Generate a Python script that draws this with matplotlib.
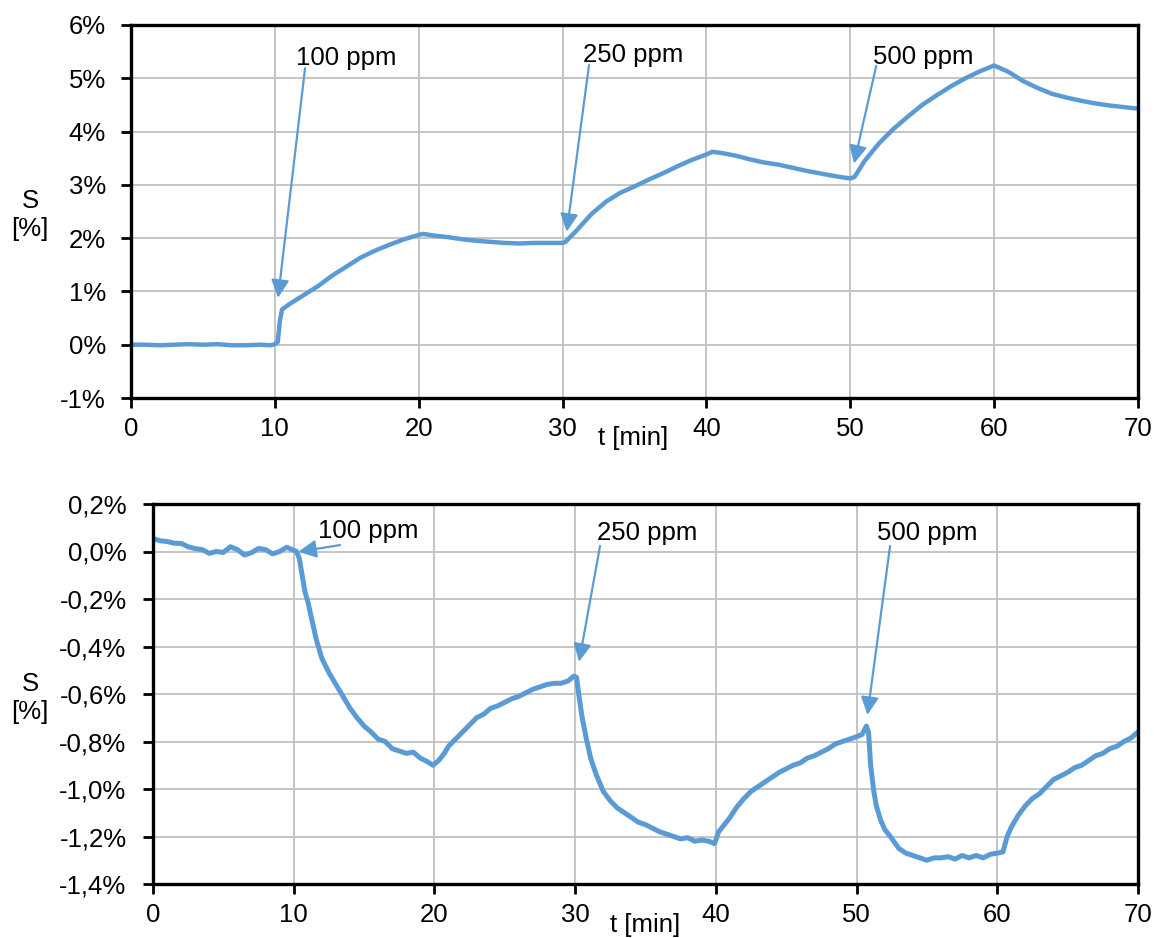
import matplotlib
matplotlib.use('Agg')
from matplotlib import pyplot as plt

plt.rcParams['font.family'] = ['Liberation Sans', 'DejaVu Sans']

BLUE = '#5B9BD5'

# top panel: S [%] vs t [min]
top_t = [0, 1, 2, 3, 4, 5, 6, 7, 8, 9, 9.7, 10.0, 10.2, 10.35, 10.5,
         11, 12, 13, 14, 15, 16, 17, 18, 19, 20, 20.3,
         21, 22, 23, 24, 25, 26, 27, 28, 29, 30, 30.2,
         31, 32, 33, 34, 35, 36, 37, 38, 39, 40, 40.4,
         41, 42, 43, 44, 45, 46, 47, 48, 49, 50, 50.3,
         51, 52, 53, 54, 55, 56, 57, 58, 59, 60,
         61, 62, 63, 64, 65, 66, 67, 68, 69, 70]
top_s = [0.00, 0.00, -0.01, 0.00, 0.01, 0.00, 0.01, -0.01, -0.01, 0.00, -0.01, 0.01, 0.05, 0.45, 0.66,
         0.76, 0.93, 1.10, 1.30, 1.47, 1.64, 1.77, 1.88, 1.98, 2.06, 2.08,
         2.05, 2.02, 1.98, 1.95, 1.93, 1.91, 1.90, 1.91, 1.91, 1.91, 1.93,
         2.15, 2.45, 2.68, 2.85, 2.97, 3.10, 3.22, 3.35, 3.47, 3.57, 3.62,
         3.60, 3.55, 3.48, 3.42, 3.38, 3.32, 3.26, 3.21, 3.16, 3.12, 3.15,
         3.45, 3.78, 4.05, 4.28, 4.50, 4.68, 4.85, 5.00, 5.13, 5.24,
         5.12, 4.95, 4.82, 4.71, 4.64, 4.58, 4.53, 4.49, 4.46, 4.43]

# bottom panel
bot_t = [0, 0.5, 1, 1.5, 2, 2.5, 3, 3.5, 4, 4.5, 5, 5.5, 6, 6.5, 7, 7.5, 8, 8.5, 9, 9.5, 10, 10.2,
         10.4, 10.6, 10.8, 11.0, 11.3, 11.6, 12.0, 12.5, 13.0, 13.5, 14.0, 14.5, 15.0, 15.5,
         16.0, 16.5, 17.0, 17.5, 18.0, 18.5, 19.0, 19.5, 19.9,
         20.3, 20.7, 21.0, 21.5, 22.0, 22.5, 23.0, 23.5, 24.0, 24.5, 25.0, 25.5, 26.0, 26.5,
         27.0, 27.5, 28.0, 28.5, 29.0, 29.5, 29.9,
         30.1, 30.3, 30.5, 30.8, 31.1, 31.5, 32.0, 32.5, 33.0, 33.5, 34.0, 34.5, 35.0, 35.5,
         36.0, 36.5, 37.0, 37.5, 38.0, 38.5, 39.0, 39.5, 39.9,
         40.2, 40.6, 41.0, 41.5, 42.0, 42.5, 43.0, 43.5, 44.0, 44.5, 45.0, 45.5, 46.0, 46.5,
         47.0, 47.5, 48.0, 48.5, 49.0, 49.5, 50.0, 50.4, 50.7,
         50.85, 51.0, 51.2, 51.4, 51.7, 52.0, 52.4, 53.0, 53.5, 54.0, 54.5, 55.0, 55.5, 56.0,
         56.5, 57.0, 57.5, 58.0, 58.5, 59.0, 59.5, 60.0, 60.4,
         60.7, 61.0, 61.5, 62.0, 62.5, 63.0, 63.5, 64.0, 64.5, 65.0, 65.5, 66.0, 66.5, 67.0,
         67.5, 68.0, 68.5, 69.0, 69.5, 70.0]
bot_s = [0.055, 0.045, 0.042, 0.035, 0.034, 0.02, 0.012, 0.008, -0.008, 0.0, -0.004, 0.02, 0.008, -0.015, -0.005, 0.013, 0.008, -0.01, 0.0, 0.018, 0.005, 0.0,
         -0.03, -0.10, -0.17, -0.21, -0.29, -0.37, -0.45, -0.51, -0.56, -0.61, -0.66, -0.70, -0.735, -0.76,
         -0.79, -0.80, -0.83, -0.84, -0.85, -0.845, -0.87, -0.885, -0.90,
         -0.88, -0.85, -0.82, -0.79, -0.76, -0.73, -0.70, -0.685, -0.66, -0.65, -0.635, -0.62, -0.61, -0.595,
         -0.58, -0.57, -0.56, -0.555, -0.555, -0.545, -0.525,
         -0.53, -0.62, -0.70, -0.79, -0.87, -0.94, -1.01, -1.05, -1.08, -1.10, -1.12, -1.14, -1.15, -1.165,
         -1.18, -1.19, -1.20, -1.21, -1.205, -1.22, -1.215, -1.22, -1.23,
         -1.18, -1.15, -1.12, -1.075, -1.04, -1.01, -0.99, -0.97, -0.95, -0.93, -0.915, -0.90, -0.89, -0.87,
         -0.86, -0.845, -0.83, -0.81, -0.80, -0.79, -0.78, -0.77, -0.735,
         -0.76, -0.90, -1.00, -1.07, -1.13, -1.17, -1.20, -1.25, -1.27, -1.28, -1.29, -1.30, -1.29, -1.29,
         -1.285, -1.295, -1.28, -1.29, -1.28, -1.29, -1.275, -1.27, -1.265,
         -1.20, -1.16, -1.11, -1.07, -1.04, -1.02, -0.99, -0.96, -0.945, -0.93, -0.91, -0.90, -0.88, -0.86,
         -0.85, -0.83, -0.82, -0.80, -0.785, -0.76]

x_ticks = [0, 10, 20, 30, 40, 50, 60, 70]
top_yticks = [-1, 0, 1, 2, 3, 4, 5, 6]
top_ylabels = ['-1%', '0%', '1%', '2%', '3%', '4%', '5%', '6%']
bot_yticks = [-1.4, -1.2, -1.0, -0.8, -0.6, -0.4, -0.2, 0.0, 0.2]
bot_ylabels = ['-1,4%', '-1,2%', '-1,0%', '-0,8%', '-0,6%', '-0,4%', '-0,2%', '0,0%', '0,2%']

labels = ['100 ppm', '250 ppm', '500 ppm']
# text position, arrow tail, arrow tip (data coords)
top_text = [(11.47, 5.25), (31.43, 5.30), (51.6, 5.27)]
top_tail = [(12.10, 5.19), (31.84, 5.25), (51.8, 5.23)]
top_tip = [(10.22, 0.88), (30.29, 2.12), (50.26, 3.40)]
bot_text = [(11.73, 0.057), (31.56, 0.048), (51.46, 0.048)]
bot_tail = [(13.29, 0.027), (31.77, 0.023), (52.38, 0.023)]
bot_tip = [(10.33, -0.001), (30.28, -0.464), (50.77, -0.688)]

FS = 18.5

fig = plt.figure(figsize=(11.54, 9.38), dpi=100)
ax1 = fig.add_axes([131 / 1154, 1 - 398 / 938, 1007 / 1154, 373 / 938])
ax2 = fig.add_axes([153 / 1154, 1 - 884 / 938, 985 / 1154, 380 / 938])


def style(ax, yticks, ylabels, ylim, ypad):
    ax.set_xlim(0, 70)
    ax.set_ylim(*ylim)
    ax.set_xticks(x_ticks)
    ax.set_xticklabels([str(v) for v in x_ticks])
    ax.set_yticks(yticks)
    ax.set_yticklabels(ylabels)
    ax.grid(True, color='#C0C0C0', lw=1.3)
    ax.set_axisbelow(True)
    for s in ax.spines.values():
        s.set_linewidth(2.4)
        s.set_color('black')
    ax.tick_params(axis='x', direction='out', length=7, width=2, labelsize=FS, pad=7)
    ax.tick_params(axis='y', direction='out', length=7, width=2, labelsize=FS, pad=ypad)


def annotate(ax, texts, tails, tips):
    for lab, tp, tl, tip in zip(labels, texts, tails, tips):
        ax.text(tp[0], tp[1], lab, fontsize=FS, ha='left', va='baseline', clip_on=False)
        ax.annotate('', xy=tip, xytext=tl,
                    arrowprops=dict(arrowstyle='-|>,head_length=0.6,head_width=0.3',
                                    color=BLUE, lw=1.6, mutation_scale=18,
                                    shrinkA=0, shrinkB=0))


ax1.plot(top_t, top_s, color=BLUE, lw=3.2, solid_joinstyle='round')
style(ax1, top_yticks, top_ylabels, (-1, 6), 11)
annotate(ax1, top_text, top_tail, top_tip)

ax2.plot(bot_t, bot_s, color=BLUE, lw=3.6, solid_joinstyle='round')
style(ax2, bot_yticks, bot_ylabels, (-1.4, 0.2), 12)
annotate(ax2, bot_text, bot_tail, bot_tip)

fig.text(30 / 1154, 1 - 215 / 938, 'S\n[%]', fontsize=FS, ha='center', va='center')
fig.text(30 / 1154, 1 - 698 / 938, 'S\n[%]', fontsize=FS, ha='center', va='center')
fig.text(633 / 1154, 1 - 438 / 938, 't [min]', fontsize=FS, ha='center', va='center')
fig.text(645 / 1154, 1 - 925 / 938, 't [min]', fontsize=FS, ha='center', va='center')

fig.savefig('out.png', dpi=100)
